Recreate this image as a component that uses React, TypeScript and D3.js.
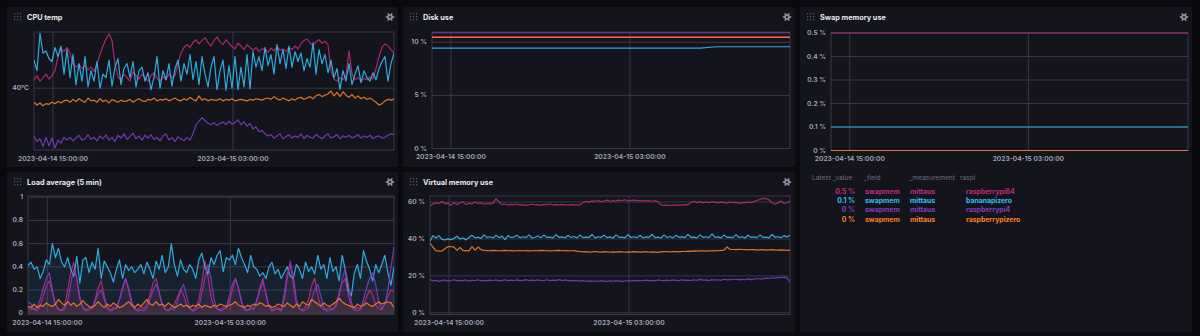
import React from 'react';
import * as d3 from 'd3';

// ---------- DATA ----------
const T0 = new Date(2023, 3, 14, 13, 44).getTime();
const T1 = new Date(2023, 3, 15, 13, 44).getTime();
const X_TICKS = [new Date(2023, 3, 14, 15, 0), new Date(2023, 3, 15, 3, 0)];
const STEP_MIN = 12; // minutes between samples of the dense series

const seriesNames = ['raspberrypi64', 'bananapizero', 'raspberrypi4', 'raspberrypizero'];

// CPU temp (°C)
const cpuPi64 = [41.2, 41.8, 41.0, 41.5, 42.0, 41.3, 41.8, 42.5,
  44.5, 45.6, 45.2, 45.8, 45.0,
  43.5, 43.0, 43.4, 42.8, 43.2, 42.6, 43.0, 42.4,
  43.5, 44.8, 46.0, 47.0, 47.7, 46.8, 43.5, 41.6,
  41.2, 42.0, 41.5, 41.0, 42.3, 41.8, 41.3, 42.0, 41.5, 41.0, 41.8, 42.2, 41.4, 41.0, 41.7, 41.2, 42.0, 41.5, 41.8,
  43.5, 45.0, 45.8,
  46.2, 45.8, 46.5, 46.9, 46.3, 46.8, 47.2, 46.5, 46.0, 46.8, 47.3, 46.6, 46.2, 46.9, 46.4, 45.9,
  45.6, 46.4, 46.0, 45.5, 46.2, 45.8,
  45.4, 45.8, 45.2, 45.6, 45.5, 45.1, 45.7, 45.3, 45.9, 45.4, 45.6, 45.2, 45.8, 45.5, 46.0, 45.6,
  46.3, 46.8, 47.0, 46.5, 46.0, 46.6, 46.9, 46.4, 46.7, 46.2,
  42.5, 41.3, 41.0, 41.5, 41.2, 41.8,
  45.3,
  42.0, 41.2, 41.5, 41.0, 41.4, 41.2, 41.6, 41.3,
  42.8, 44.5, 45.8, 46.3,
  46.0, 45.5, 45.0];
const cpuBanana = [44.0, 42.5, 47.8, 45.0, 45.3, 44.2, 43.8, 45.8, 44.5, 46.0, 42.0, 45.5, 41.5,
  44.8, 40.5, 43.5, 41.0, 44.5, 40.2, 42.5, 41.0, 43.8, 40.0, 42.0, 41.5, 44.0, 40.3, 43.0, 44.2, 40.5, 42.8,
  43.5, 41.5, 43.8, 40.2, 42.5, 43.0, 41.0, 42.2, 39.8, 41.5, 44.5, 40.0, 42.5, 41.2, 43.5, 40.3, 42.8, 44.0,
  41.0, 43.5, 42.0, 44.8, 41.2, 43.8, 40.5, 44.5, 42.0, 40.2, 43.0, 44.5,
  39.8, 42.5, 44.0, 39.7, 43.2, 40.0, 44.5, 39.8, 43.0, 40.2, 44.8, 39.9,
  45.2, 43.0, 44.5, 42.5, 45.8, 43.2, 44.8, 42.0, 46.2, 43.5, 45.5, 42.8, 46.0, 43.0, 45.2, 43.8,
  45.0, 42.5, 44.2, 43.0, 46.5, 42.0, 45.5, 43.5, 44.8, 42.2, 44.0, 41.5,
  42.8, 39.8, 42.5, 41.0, 43.5, 40.5, 42.0, 43.2, 40.8, 42.5, 41.5, 41.0, 42.2, 41.2, 42.8, 43.8, 44.5, 41.0, 43.5, 45.0];
const cpuPi4 = [33.2, 32.4, 32.8, 31.7, 33.0, 31.8, 32.9, 31.5, 32.6, 32.2, 33.0,
  32.6, 33.0, 32.5, 32.9, 33.3, 32.6, 32.8, 33.4, 32.7, 33.0, 32.5, 33.2, 32.8, 33.4, 32.6, 33.0, 32.4, 33.3, 32.9, 33.5, 32.7,
  33.1, 33.6, 32.8, 33.2, 32.6, 33.3, 32.9, 33.4, 32.7, 33.0, 32.5, 33.2, 33.5, 32.6, 33.0, 32.4, 33.1, 32.8, 32.5, 33.0, 32.6,
  33.5, 34.8, 35.3, 35.8, 35.4,
  35.0, 34.8, 35.1, 34.7, 35.0, 35.2, 34.8, 35.3, 34.9, 35.1, 35.5, 34.8, 35.2, 34.6, 35.0,
  34.2, 34.5, 33.8, 34.0, 33.5, 33.2,
  33.4, 32.9, 33.2, 33.5, 32.8, 33.1, 33.4, 32.9, 33.2, 33.0, 33.5, 32.8, 33.3, 33.0, 32.9, 33.4, 33.1, 32.8, 33.2, 33.5, 32.9,
  33.1, 33.4, 32.8, 33.2, 33.0, 33.3, 32.9, 33.1, 33.4, 32.9, 33.2, 33.0, 33.3, 32.8, 33.1, 33.2, 32.9, 33.0, 33.3, 33.5, 33.4];
const cpuPizero = [38.0, 37.6, 37.9, 37.5, 37.8, 37.7, 38.0, 37.8, 38.1, 37.9, 38.2,
  38.3, 38.0, 38.4, 38.1, 38.5, 38.2, 38.0, 38.6, 38.2, 38.3, 38.0, 38.5, 38.1, 38.3, 37.9, 38.4, 38.2, 38.0, 38.3, 38.1,
  38.2, 38.4, 38.0, 38.3, 38.5, 38.2, 38.1, 38.4, 38.3, 38.6, 38.2, 38.4, 38.3, 38.5, 38.2, 38.4, 38.6, 38.3, 38.2, 38.5,
  38.3, 38.7, 38.4, 38.2, 38.9, 38.3, 38.5, 38.2, 38.4, 38.3,
  38.3, 38.5, 38.2, 38.4, 38.3, 38.5, 38.2, 38.3, 38.4, 38.3, 38.2, 38.4, 38.3, 38.5, 38.4, 38.3, 38.5, 38.6, 38.4, 38.8,
  38.5, 38.3, 38.6, 38.4, 38.2, 38.5, 38.3, 38.6, 38.7, 38.4,
  38.6, 38.8, 38.5, 38.9, 39.1, 38.8, 39.0, 39.2, 39.6, 38.9, 39.4, 38.8, 39.5, 39.0, 38.7, 39.1, 38.6, 38.9, 38.5, 38.7,
  38.4, 38.6, 38.3, 38.0, 37.6, 37.8, 38.2, 38.4, 38.3, 38.5];

// Load average (5 min)
const loadPi64 = [0.05, 0.03, 0.04, 0.02, 0.06, 0.15, 0.24, 0.28, 0.18, 0.08, 0.04, 0.03, 0.06,
  0.2, 0.35, 0.44, 0.3, 0.12, 0.05, 0.03, 0.05, 0.04, 0.12, 0.22, 0.28, 0.15, 0.06, 0.03, 0.05, 0.04,
  0.12, 0.22, 0.3, 0.2, 0.08, 0.04, 0.03, 0.06, 0.04, 0.08, 0.16, 0.26, 0.3, 0.18, 0.07, 0.04, 0.03, 0.05, 0.08,
  0.14, 0.2, 0.16, 0.07, 0.04, 0.03, 0.05, 0.12, 0.26, 0.45, 0.32, 0.14, 0.06, 0.04, 0.03, 0.05, 0.04, 0.1,
  0.2, 0.3, 0.22, 0.1, 0.04, 0.03, 0.05, 0.04, 0.1, 0.22, 0.3, 0.16, 0.06, 0.03, 0.04, 0.05, 0.03,
  0.16, 0.34, 0.42, 0.25, 0.08, 0.04, 0.03, 0.06, 0.12, 0.24, 0.3, 0.15, 0.06, 0.03, 0.04, 0.05, 0.03, 0.08,
  0.18, 0.26, 0.3, 0.16, 0.06, 0.03, 0.05, 0.04, 0.08, 0.14, 0.2, 0.16, 0.07, 0.04, 0.03, 0.08, 0.15, 0.2, 0.19];
const loadBanana = [0.41, 0.44, 0.38, 0.4, 0.3, 0.36, 0.46, 0.42, 0.6, 0.48, 0.56,
  0.44, 0.4, 0.48, 0.38, 0.32, 0.49, 0.26, 0.46, 0.48, 0.35,
  0.44, 0.38, 0.56, 0.3, 0.45, 0.4, 0.35, 0.27, 0.38, 0.46,
  0.3, 0.42, 0.37, 0.4, 0.35, 0.38, 0.42, 0.34, 0.44, 0.38,
  0.3, 0.45, 0.38, 0.5, 0.35, 0.4, 0.6, 0.42, 0.32, 0.46,
  0.38, 0.35, 0.42, 0.38, 0.3, 0.46, 0.52, 0.4, 0.34, 0.48,
  0.42, 0.5, 0.54, 0.36, 0.48, 0.46, 0.5, 0.42, 0.56, 0.48,
  0.42, 0.35, 0.5, 0.4, 0.38, 0.32, 0.35, 0.3, 0.4, 0.44,
  0.34, 0.38, 0.3, 0.35, 0.4, 0.32, 0.3, 0.42, 0.38, 0.3,
  0.44, 0.36, 0.4, 0.34, 0.5, 0.38, 0.42, 0.3, 0.48, 0.36,
  0.4, 0.28, 0.5, 0.38, 0.2, 0.15, 0.35, 0.42, 0.3, 0.54,
  0.45, 0.38, 0.28, 0.42, 0.35, 0.42, 0.5, 0.35, 0.24, 0.4];
const loadPi4 = [0.1, 0.08, 0.03, 0.05, 0.12, 0.22, 0.3, 0.35, 0.2, 0.07, 0.03, 0.02, 0.04, 0.1,
  0.25, 0.38, 0.3, 0.14, 0.05, 0.02, 0.03, 0.05, 0.1, 0.17, 0.2, 0.12, 0.04, 0.02, 0.03, 0.05, 0.12,
  0.22, 0.3, 0.22, 0.1, 0.04, 0.02, 0.03, 0.02, 0.05, 0.12, 0.2, 0.25, 0.18, 0.08, 0.03, 0.02, 0.04, 0.03, 0.1,
  0.2, 0.25, 0.15, 0.05, 0.02, 0.03, 0.05, 0.18, 0.3, 0.42, 0.3, 0.12, 0.04, 0.02, 0.03, 0.05, 0.15,
  0.25, 0.3, 0.22, 0.1, 0.03, 0.02, 0.04, 0.03, 0.12, 0.2, 0.27, 0.18, 0.06, 0.02, 0.03, 0.04, 0.02, 0.12,
  0.3, 0.45, 0.32, 0.12, 0.04, 0.02, 0.03, 0.05, 0.12, 0.2, 0.25, 0.15, 0.05, 0.02, 0.03, 0.04, 0.06, 0.15,
  0.3, 0.38, 0.26, 0.1, 0.03, 0.02, 0.04, 0.12, 0.22, 0.3, 0.35, 0.25, 0.1, 0.04, 0.08, 0.2, 0.4, 0.57];
const loadPizero = [0.06, 0.05, 0.08, 0.05, 0.07, 0.06, 0.09, 0.07, 0.06, 0.08, 0.12, 0.09, 0.07, 0.1, 0.07, 0.09, 0.06, 0.08, 0.11, 0.08, 0.06,
  0.05, 0.07, 0.1, 0.07, 0.05, 0.08, 0.06, 0.09, 0.07, 0.05, 0.06, 0.08, 0.1, 0.07, 0.05, 0.08, 0.06, 0.09, 0.12, 0.08,
  0.07, 0.1, 0.07, 0.08, 0.06, 0.09, 0.07, 0.05, 0.06, 0.08, 0.06, 0.07, 0.05, 0.07, 0.06, 0.08, 0.05, 0.07, 0.06, 0.05,
  0.07, 0.06, 0.08, 0.07, 0.06, 0.07, 0.08, 0.1, 0.07, 0.06, 0.05, 0.07, 0.06, 0.08, 0.07, 0.09, 0.08, 0.06, 0.07, 0.05,
  0.06, 0.08, 0.07, 0.06, 0.09, 0.07, 0.05, 0.08, 0.06, 0.1, 0.08, 0.07, 0.12, 0.1, 0.08, 0.06, 0.09, 0.07, 0.06, 0.08,
  0.1, 0.13, 0.1, 0.08, 0.07, 0.06, 0.05, 0.08, 0.06, 0.07, 0.09, 0.07, 0.06, 0.08, 0.1, 0.08, 0.09, 0.1, 0.09, 0.05];

// Virtual memory use (%)
const vmPi64 = [57.8, 59.0, 59.5, 59.2, 60.2, 59.0, 59.4, 58.2, 59.8, 58.5, 59.6,
  60.0, 58.6, 59.3, 59.0, 60.0, 59.2, 59.5, 58.8, 59.2, 59.0,
  59.4, 61.8, 60.0, 58.6, 58.9, 58.4, 58.7, 58.5, 58.9, 58.3,
  58.6, 58.2, 58.5, 58.8, 58.4, 58.6, 58.2, 58.7, 58.5, 58.9,
  58.4, 58.6, 58.3, 58.7, 58.5, 58.2, 58.6, 58.4, 58.5, 58.3,
  59.8, 60.4, 60.1, 60.6, 60.3, 60.8, 60.2, 60.5, 61.0, 60.4,
  60.7, 60.5, 61.0, 60.8, 61.2, 60.6, 60.9, 61.0, 60.7, 60.8,
  60.5, 60.8, 60.6, 60.4, 60.7, 60.2, 58.4, 58.2, 58.3, 58.1,
  58.4, 58.2, 58.5, 58.3, 58.6, 58.4, 59.8, 60.4, 59.6, 60.2,
  59.5, 60.0, 59.6, 60.3, 59.8, 59.5, 60.1, 59.7, 59.4, 60.0,
  59.6, 59.8, 59.3, 59.7, 59.5, 60.0, 59.6, 60.2, 60.8, 61.5,
  62.0, 61.8, 61.2, 59.5, 58.8, 59.5, 60.5, 59.2, 59.6, 60.5];
const vmBanana = [38.8, 41.8, 40.5, 41.8, 39.8, 39.5, 40.0, 39.6, 40.2, 41.5, 40.0,
  40.5, 39.5, 40.8, 42.0, 40.6, 41.0, 40.2, 42.2, 40.8, 41.2,
  40.5, 42.0, 40.7, 41.5, 39.6, 41.8, 40.8, 41.0, 42.0, 40.6,
  41.2, 40.8, 42.2, 40.5, 40.9, 41.6, 40.7, 42.1, 40.8, 41.0,
  40.6, 42.3, 40.9, 41.1, 40.5, 42.0, 40.8, 41.3, 40.6, 42.1,
  40.7, 41.0, 40.8, 42.4, 40.6, 41.2, 40.9, 42.0, 40.7, 41.1,
  40.5, 42.2, 40.9, 41.0, 40.6, 42.3, 40.8, 41.2, 40.7, 42.0,
  40.6, 41.1, 40.9, 42.4, 40.7, 41.0, 40.5, 42.2, 40.8, 41.3,
  40.6, 42.0, 40.9, 41.1, 40.7, 42.5, 40.8, 41.0, 40.6, 42.2,
  40.9, 41.2, 40.7, 42.8, 40.8, 41.1, 40.6, 42.1, 40.9, 41.0,
  40.7, 42.3, 40.8, 41.2, 40.5, 42.0, 40.9, 41.1, 40.7, 42.2,
  40.8, 41.0, 40.6, 42.4, 40.9, 41.2, 40.7, 41.8, 41.0, 42.0];
const vmPi4 = [18.0, 17.2, 17.6, 17.0, 17.4, 17.8, 17.2, 17.5, 17.9, 17.3, 17.6, 17.4, 17.8, 17.2, 17.6, 17.5, 17.9, 17.3, 17.6, 17.4, 17.7,
  17.5, 17.8, 17.3, 17.6, 17.9, 17.4, 17.7, 17.5, 17.8, 17.4, 17.6, 18.0, 17.5, 17.7, 17.4, 17.8, 17.6, 17.5, 17.9, 17.4,
  17.7, 17.6, 18.0, 17.5, 17.8, 17.4, 17.6, 17.3, 17.5, 17.2, 17.4, 17.1, 17.3, 17.0, 17.2, 17.1, 17.4, 17.2, 17.0, 17.3,
  17.1, 17.4, 17.2, 17.0, 17.3, 17.5, 17.2, 17.4, 17.6, 17.3, 17.5, 17.7, 17.4, 17.6, 17.3, 17.8, 17.5, 17.4, 17.7, 17.5,
  17.8, 17.6, 17.4, 17.9, 17.6, 17.7, 17.5, 17.9, 17.6, 18.1, 17.7, 17.8, 17.5, 18.0, 17.7, 17.9, 17.6, 18.2, 17.8, 18.0,
  17.9, 18.3, 17.8, 18.1, 17.9, 18.4, 18.0, 18.2, 18.6, 18.3, 18.5, 18.8, 18.6, 19.0, 18.8, 19.2, 19.0, 19.3, 18.9, 16.4];
const vmPizero = [37.8, 35.5, 33.6, 33.4, 33.5, 34.8, 35.8, 35.9, 35.6, 33.8, 35.4,
  33.6, 33.7, 33.5, 35.8, 33.9, 35.6, 34.2, 33.8, 33.7, 33.6,
  33.8, 33.7, 33.6, 33.7, 33.8, 33.6, 33.7, 33.5, 33.6, 33.7,
  33.6, 33.7, 33.5, 33.6, 33.7, 33.6, 33.8, 33.7, 33.6, 33.5,
  33.6, 33.7, 33.8, 33.6, 33.7, 33.5, 33.6, 33.7, 33.4, 33.2,
  33.0, 33.1, 32.9, 33.0, 33.2, 33.0, 32.9, 33.1, 33.0, 32.8,
  33.0, 32.9, 33.1, 33.0, 32.8, 33.0, 32.9, 33.1, 33.0, 32.9,
  33.0, 33.1, 32.8, 33.0, 32.9, 32.7, 33.0, 33.1, 33.2, 33.0,
  33.1, 33.2, 33.0, 33.3, 33.2, 33.4, 33.3, 33.5, 33.4, 33.6,
  33.5, 33.4, 33.6, 33.5, 33.7, 33.6, 33.8, 34.0, 35.6, 34.4,
  34.3, 34.2, 34.4, 34.3, 34.2, 34.1, 34.3, 34.2, 34.0, 34.1,
  34.2, 34.0, 34.1, 34.2, 34.0, 33.9, 34.1, 34.0, 33.8, 34.0];

// Disk use (%), hourly samples
const DISK_STEP_MIN = 60;
const diskPi64 = [10.52, 10.52, 10.52, 10.52, 10.52, 10.52, 10.52, 10.52, 10.52, 10.52, 10.52, 10.52, 10.52, 10.52, 10.52, 10.52, 10.52, 10.52, 10.52, 10.52, 10.52, 10.52, 10.52, 10.52, 10.52];
const diskBanana = [9.45, 9.45, 9.45, 9.45, 9.45, 9.45, 9.45, 9.45, 9.45, 9.45, 9.45, 9.45, 9.45, 9.45, 9.45, 9.45, 9.45, 9.45, 9.45, 9.58, 9.58, 9.58, 9.58, 9.58, 9.58];
const diskPi4 = [10.9, 10.9, 10.9, 10.9, 10.9, 10.9, 10.9, 10.9, 10.9, 10.9, 10.9, 10.9, 10.9, 10.9, 10.9, 10.9, 10.9, 10.9, 10.9, 10.9, 10.9, 10.9, 10.9, 10.9, 10.9];
const diskPizero = [10.47, 10.47, 10.47, 10.47, 10.47, 10.47, 10.47, 10.47, 10.47, 10.47, 10.47, 10.47, 10.47, 10.47, 10.47, 10.47, 10.47, 10.47, 10.47, 10.47, 10.47, 10.47, 10.47, 10.47, 10.47];

// Swap memory use (%), two samples (start / end)
const SWAP_STEP_MIN = 1440;
const swapPi64 = [0.5, 0.5];
const swapBanana = [0.1, 0.1];
const swapPi4 = [0, 0];
const swapPizero = [0, 0];

// Legend table
const legendHeaders = ['Latest _value', '_field', '_measurement', 'raspi'];
const legendValues = ['0.5 %', '0.1 %', '0 %', '0 %'];
const legendField = 'swapmem';
const legendMeasurement = 'mittaus';

// ---------- STYLE ----------
const COLORS = ['#C32A7B', '#31C0F6', '#7E40C0', '#FF7E27'];
const PAGE_BG = '#09090e';
const PANEL_BG = '#14141c';
const GRID = '#383848';
const TICK_TXT = '#a7aab6';
const TITLE_TXT = '#e8e8ee';
const FONT = 'Inter, "Noto Sans", sans-serif';
const TICK_SIZE = 6.7;

type Box = { x0: number; x1: number; y0: number; y1: number };
type Series = { values: number[]; step: number; color: string };

const timeFmt = d3.timeFormat('%Y-%m-%d %H:%M:%S');

function PanelFrame({ x, y, w, h, title }: { x: number; y: number; w: number; h: number; title: string }) {
  const ty = y + 10;
  const dots: JSX.Element[] = [];
  for (let r = 0; r < 3; r++)
    for (let c = 0; c < 3; c++)
      dots.push(<rect key={`${r}${c}`} x={x + 7 + c * 3} y={ty - 4 + r * 3} width={1.3} height={1.3} fill="#55556a" />);
  const gx = x + w - 8;
  const teeth: JSX.Element[] = [];
  for (let k = 0; k < 6; k++) {
    const a = (k * Math.PI) / 3;
    teeth.push(
      <line key={k} x1={gx + Math.cos(a) * 2} y1={ty + Math.sin(a) * 2} x2={gx + Math.cos(a) * 4.2} y2={ty + Math.sin(a) * 4.2}
        stroke="#8d8d9c" strokeWidth={1.7} />
    );
  }
  return (
    <g>
      <rect x={x} y={y} width={w} height={h} fill={PANEL_BG} rx={2} />
      {dots}
      <text x={x + 20} y={ty} dominantBaseline="central" fill={TITLE_TXT} fontSize={7.3} fontWeight={700} fontFamily={FONT}>{title}</text>
      {teeth}
      <circle cx={gx} cy={ty} r={2.8} fill="#8d8d9c" />
      <circle cx={gx} cy={ty} r={1.1} fill={PANEL_BG} />
    </g>
  );
}

function Chart({ id, box, yDomain, yTicks, yFmt, series, shade }: {
  id: string; box: Box; yDomain: [number, number]; yTicks: number[]; yFmt: (v: number) => string; series: Series[]; shade?: boolean;
}) {
  const x = d3.scaleTime().domain([new Date(T0), new Date(T1)]).range([box.x0, box.x1]);
  const y = d3.scaleLinear().domain(yDomain).range([box.y1, box.y0]);
  const pts = (s: Series) => s.values.map((v, i) => [T0 + i * s.step * 60000, v] as [number, number]);
  const line = d3.line<[number, number]>().x((d) => x(new Date(d[0]))).y((d) => y(d[1]));
  const area = d3.area<[number, number]>().x((d) => x(new Date(d[0]))).y0(y(0)).y1((d) => y(d[1]));
  return (
    <g fontFamily={FONT}>
      <defs>
        <clipPath id={id}>
          <rect x={box.x0} y={box.y0 - 1} width={box.x1 - box.x0} height={box.y1 - box.y0 + 2} />
        </clipPath>
      </defs>
      {yTicks.map((t) => (
        <g key={t}>
          <line x1={box.x0} x2={box.x1} y1={y(t)} y2={y(t)} stroke={GRID} strokeWidth={1} />
          <text x={box.x0 - 5} y={y(t)} textAnchor="end" dominantBaseline="central" fill={TICK_TXT} fontSize={TICK_SIZE} fontWeight={600}>{yFmt(t)}</text>
        </g>
      ))}
      {X_TICKS.map((t) => (
        <g key={+t}>
          <line x1={x(t)} x2={x(t)} y1={box.y0} y2={box.y1} stroke={GRID} strokeWidth={1} />
          <text x={x(t)} y={box.y1 + 8.5} textAnchor="middle" dominantBaseline="central" fill={TICK_TXT} fontSize={TICK_SIZE} fontWeight={600}>{timeFmt(t)}</text>
        </g>
      ))}
      <rect x={box.x0} y={box.y0} width={box.x1 - box.x0} height={box.y1 - box.y0} fill="none" stroke={GRID} strokeWidth={1} />
      <g clipPath={`url(#${id})`}>
        {shade && series.map((s, i) => (
          <path key={'a' + i} d={area(pts(s)) || ''} fill={s.color} fillOpacity={0.09} />
        ))}
        {series.map((s, i) => (
          <path key={i} d={line(pts(s)) || ''} fill="none" stroke={s.color} strokeWidth={1.2} strokeOpacity={0.88} strokeLinejoin="round" />
        ))}
      </g>
    </g>
  );
}

const mk = (arrs: number[][], step: number): Series[] => arrs.map((values, i) => ({ values, step, color: COLORS[i] }));

export default function App() {
  const pct = (v: number) => `${v} %`;
  return (
    <svg width={1200} height={336} style={{ position: 'absolute', left: 0, top: 0, display: 'block' }}>
      <rect x={0} y={0} width={1200} height={336} fill={PAGE_BG} />

      <PanelFrame x={7} y={7} w={391} h={160} title="CPU temp" />
      <Chart id="c1" box={{ x0: 34, x1: 394, y0: 32, y1: 150 }} yDomain={[31.2, 48]} yTicks={[40]} yFmt={(v) => `${v}°C`}
        series={mk([cpuPi64, cpuBanana, cpuPi4, cpuPizero], STEP_MIN)} />

      <PanelFrame x={403} y={7} w={392} h={160} title="Disk use" />
      <Chart id="c2" box={{ x0: 432, x1: 790, y0: 32, y1: 148.5 }} yDomain={[0, 10.97]} yTicks={[0, 5, 10]} yFmt={pct}
        series={mk([diskPi64, diskBanana, diskPi4, diskPizero], DISK_STEP_MIN)} />

      <PanelFrame x={800} y={7} w={392} h={325} title="Swap memory use" />
      <Chart id="c3" box={{ x0: 831, x1: 1188, y0: 33, y1: 150.5 }} yDomain={[0, 0.5]} yTicks={[0, 0.1, 0.2, 0.3, 0.4, 0.5]} yFmt={pct}
        series={mk([swapPi64, swapBanana, swapPi4, swapPizero], SWAP_STEP_MIN)} />
      <g fontFamily={FONT}>
        <g fontSize={6.6} fill="#6f6f80">
          <text x={812} y={178} dominantBaseline="central">{legendHeaders[0]}</text>
          <text x={864} y={178} dominantBaseline="central">{legendHeaders[1]}</text>
          <text x={909} y={178} dominantBaseline="central">{legendHeaders[2]}</text>
          <text x={960} y={178} dominantBaseline="central">{legendHeaders[3]}</text>
        </g>
        {seriesNames.map((n, i) => {
          const yy = 191 + i * 9.4;
          return (
            <g key={n} fill={COLORS[i]} fontWeight={700} fontSize={6.9}>
              <text x={855} y={yy} textAnchor="end" dominantBaseline="central">{legendValues[i]}</text>
              <text x={865} y={yy} dominantBaseline="central">{legendField}</text>
              <text x={910} y={yy} dominantBaseline="central">{legendMeasurement}</text>
              <text x={966} y={yy} dominantBaseline="central">{n}</text>
            </g>
          );
        })}
      </g>

      <PanelFrame x={7} y={172} w={391} h={160} title="Load average (5 min)" />
      <Chart id="c4" box={{ x0: 28, x1: 394, y0: 196, y1: 314.5 }} yDomain={[-0.01, 1.01]} yTicks={[0, 0.2, 0.4, 0.6, 0.8, 1]} yFmt={(v) => `${v}`}
        series={mk([loadPi64, loadBanana, loadPi4, loadPizero], STEP_MIN)} shade />

      <PanelFrame x={403} y={172} w={392} h={160} title="Virtual memory use" />
      <Chart id="c5" box={{ x0: 430, x1: 790, y0: 196, y1: 314.5 }} yDomain={[-0.9, 63.25]} yTicks={[0, 20, 40, 60]} yFmt={pct}
        series={mk([vmPi64, vmBanana, vmPi4, vmPizero], STEP_MIN)} />
    </svg>
  );
}
